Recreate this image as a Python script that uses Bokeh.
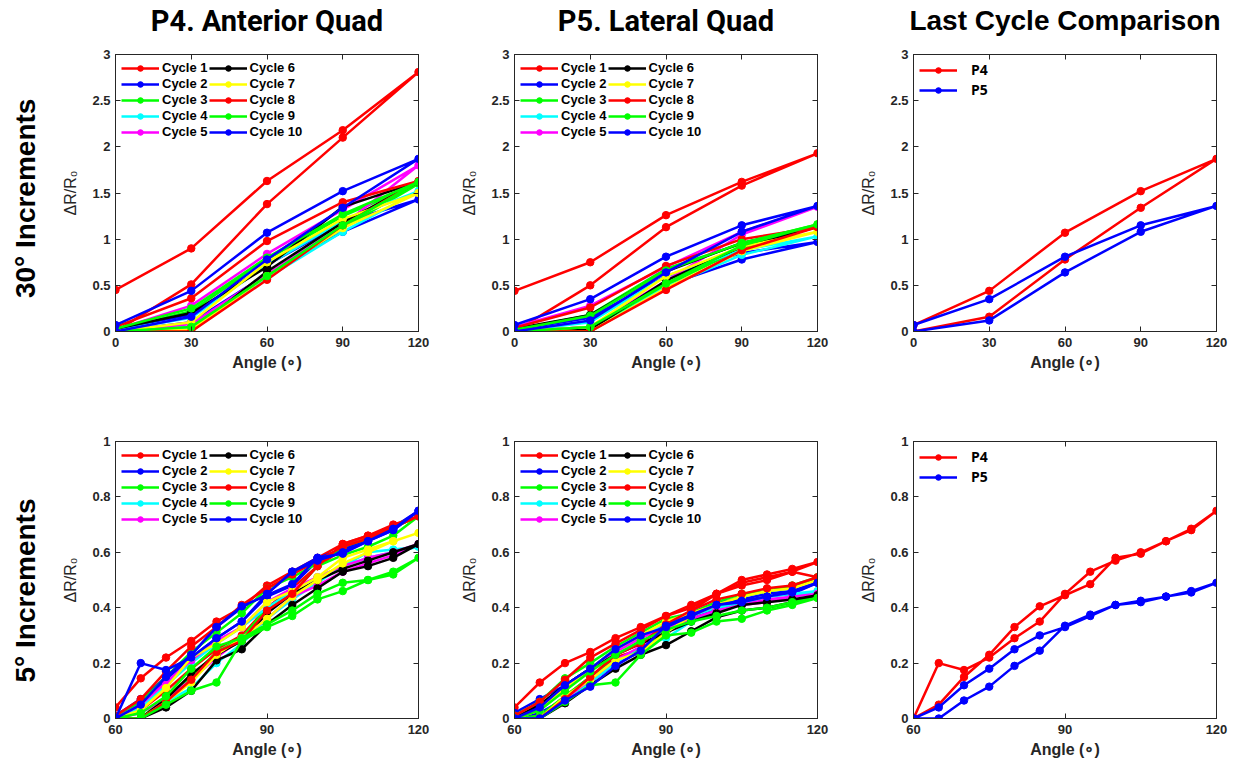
import math
from bokeh.plotting import figure
from bokeh.layouts import row, column
from bokeh.models import (Range1d, FixedTicker, LinearAxis, Legend, LegendItem,
                          CustomJSTickFormatter)
from bokeh.embed import file_html
from bokeh.resources import INLINE
from bokeh.core.properties import value

# ---------------- data ----------------
angles_30 = [0, 30, 60, 90, 120]
angles_5 = [60, 65, 70, 75, 80, 85, 90, 95, 100, 105, 110, 115, 120]

cycle_names = ["Cycle 1", "Cycle 2", "Cycle 3", "Cycle 4", "Cycle 5",
               "Cycle 6", "Cycle 7", "Cycle 8", "Cycle 9", "Cycle 10"]
cycle_colors = ["#FF0000", "#0000FF", "#00FF00", "#00FFFF", "#FF00FF",
                "#000000", "#FFFF00", "#FF0000", "#00FF00", "#0000FF"]
compare_names = ["P4", "P5"]
compare_colors = ["#FF0000", "#0000FF"]

col_titles = ["P4. Anterior Quad", "P5. Lateral Quad", "Last Cycle Comparison"]
row_titles = ["30° Increments", "5° Increments"]
y_label = "ΔR/R₀"
x_label = "Angle (∘)"

ticks_x_30 = [0, 30, 60, 90, 120]
ticks_y_30 = [0, 0.5, 1, 1.5, 2, 2.5, 3]
ticks_x_5 = [60, 90, 120]
ticks_y_5 = [0, 0.2, 0.4, 0.6, 0.8, 1]

# P4, 30 deg increments: loading (0..120) and unloading (90..0)
p4_30_load = [
    [0.00, 0.51, 1.38, 2.10, 2.81],
    [0.00, 0.10, 0.62, 1.08, 1.43],
    [0.00, 0.05, 0.60, 1.12, 1.60],
    [0.00, 0.05, 0.58, 1.08, 1.52],
    [0.00, 0.08, 0.62, 1.15, 1.80],
    [0.00, 0.00, 0.65, 1.18, 1.62],
    [0.00, 0.02, 0.60, 1.12, 1.50],
    [0.00, 0.00, 0.56, 1.15, 1.63],
    [0.00, 0.05, 0.60, 1.15, 1.62],
    [0.00, 0.16, 0.78, 1.34, 1.87],
]
p4_30_unload = [
    [2.18, 1.63, 0.90, 0.45],
    [1.18, 0.72, 0.18, 0.03],
    [1.25, 0.78, 0.22, 0.02],
    [1.20, 0.72, 0.15, 0.01],
    [1.32, 0.84, 0.28, 0.02],
    [1.35, 0.70, 0.20, 0.03],
    [1.22, 0.75, 0.10, 0.00],
    [1.40, 0.98, 0.36, 0.05],
    [1.27, 0.80, 0.25, 0.03],
    [1.52, 1.07, 0.44, 0.07],
]

# P5, 30 deg increments
p5_30_load = [
    [0.00, 0.50, 1.13, 1.58, 1.93],
    [0.00, 0.05, 0.50, 0.78, 0.97],
    [0.00, 0.03, 0.50, 0.90, 1.16],
    [0.00, 0.00, 0.48, 0.83, 1.03],
    [0.00, 0.05, 0.55, 1.05, 1.35],
    [0.00, 0.02, 0.55, 0.92, 1.13],
    [0.00, 0.00, 0.47, 0.87, 1.08],
    [0.00, 0.00, 0.45, 0.88, 1.13],
    [0.00, 0.05, 0.52, 0.93, 1.16],
    [0.00, 0.12, 0.64, 1.08, 1.36],
]
p5_30_unload = [
    [1.62, 1.26, 0.75, 0.44],
    [0.85, 0.60, 0.15, 0.02],
    [0.95, 0.68, 0.18, 0.02],
    [0.88, 0.60, 0.10, 0.00],
    [1.08, 0.70, 0.28, 0.05],
    [0.96, 0.65, 0.18, 0.03],
    [0.92, 0.60, 0.05, 0.00],
    [1.00, 0.71, 0.26, 0.04],
    [0.96, 0.66, 0.17, 0.02],
    [1.15, 0.81, 0.35, 0.07],
]

# P4, 5 deg increments: loading (60..120) and unloading (115..60)
p4_5_load = [
    [0.00, 0.03, 0.10, 0.18, 0.25, 0.30, 0.40, 0.47, 0.55, 0.61, 0.65, 0.69, 0.73],
    [0.00, 0.05, 0.14, 0.22, 0.29, 0.35, 0.44, 0.48, 0.57, 0.60, 0.64, 0.68, 0.75],
    [0.00, 0.00, 0.08, 0.15, 0.24, 0.29, 0.40, 0.45, 0.55, 0.59, 0.62, 0.66, 0.73],
    [0.00, 0.00, 0.06, 0.11, 0.20, 0.27, 0.36, 0.43, 0.49, 0.55, 0.60, 0.61, 0.62],
    [0.00, 0.02, 0.07, 0.14, 0.22, 0.29, 0.36, 0.44, 0.48, 0.53, 0.56, 0.59, 0.63],
    [0.00, 0.00, 0.04, 0.10, 0.21, 0.25, 0.34, 0.41, 0.47, 0.53, 0.55, 0.58, 0.63],
    [0.00, 0.00, 0.06, 0.13, 0.23, 0.29, 0.36, 0.44, 0.50, 0.56, 0.60, 0.64, 0.67],
    [0.00, 0.00, 0.06, 0.14, 0.24, 0.28, 0.39, 0.45, 0.55, 0.63, 0.66, 0.70, 0.73],
    [0.00, 0.00, 0.05, 0.10, 0.13, 0.28, 0.33, 0.37, 0.43, 0.46, 0.50, 0.53, 0.58],
    [0.00, 0.05, 0.15, 0.23, 0.33, 0.405, 0.445, 0.485, 0.58, 0.595, 0.64, 0.685, 0.75],
]
p4_5_unload = [
    [0.69, 0.66, 0.63, 0.58, 0.53, 0.48, 0.40, 0.35, 0.28, 0.22, 0.145, 0.04],
    [0.69, 0.65, 0.61, 0.58, 0.53, 0.45, 0.40, 0.33, 0.23, 0.15, 0.07, 0.01],
    [0.69, 0.65, 0.62, 0.56, 0.51, 0.47, 0.38, 0.31, 0.24, 0.15, 0.06, 0.00],
    [0.60, 0.58, 0.55, 0.51, 0.46, 0.40, 0.33, 0.27, 0.20, 0.12, 0.04, 0.00],
    [0.60, 0.58, 0.55, 0.51, 0.47, 0.42, 0.33, 0.28, 0.21, 0.13, 0.05, 0.00],
    [0.60, 0.57, 0.54, 0.50, 0.45, 0.38, 0.28, 0.23, 0.16, 0.07, 0.00, 0.00],
    [0.64, 0.61, 0.58, 0.51, 0.46, 0.42, 0.33, 0.27, 0.22, 0.11, 0.03, 0.00],
    [0.69, 0.65, 0.62, 0.57, 0.52, 0.47, 0.41, 0.33, 0.26, 0.17, 0.07, 0.01],
    [0.52, 0.50, 0.49, 0.45, 0.39, 0.34, 0.29, 0.26, 0.18, 0.08, 0.02, 0.00],
    [0.68, 0.64, 0.60, 0.57, 0.53, 0.45, 0.35, 0.29, 0.22, 0.175, 0.20, 0.00],
]

# P5, 5 deg increments
p5_5_load = [
    [0.00, 0.01, 0.08, 0.15, 0.22, 0.25, 0.33, 0.39, 0.45, 0.48, 0.50, 0.53, 0.565],
    [0.00, 0.02, 0.07, 0.13, 0.20, 0.24, 0.31, 0.36, 0.40, 0.42, 0.44, 0.45, 0.49],
    [0.00, 0.01, 0.08, 0.15, 0.21, 0.25, 0.32, 0.37, 0.41, 0.44, 0.46, 0.47, 0.51],
    [0.00, 0.00, 0.07, 0.13, 0.20, 0.26, 0.29, 0.35, 0.39, 0.41, 0.43, 0.44, 0.46],
    [0.00, 0.00, 0.07, 0.14, 0.21, 0.26, 0.32, 0.36, 0.39, 0.41, 0.42, 0.44, 0.45],
    [0.00, 0.00, 0.055, 0.12, 0.18, 0.23, 0.265, 0.315, 0.365, 0.39, 0.40, 0.42, 0.445],
    [0.00, 0.00, 0.08, 0.14, 0.21, 0.24, 0.31, 0.37, 0.41, 0.44, 0.46, 0.47, 0.50],
    [0.00, 0.00, 0.07, 0.15, 0.23, 0.27, 0.34, 0.39, 0.43, 0.45, 0.47, 0.48, 0.51],
    [0.00, 0.00, 0.06, 0.12, 0.13, 0.23, 0.30, 0.31, 0.35, 0.36, 0.39, 0.41, 0.435],
    [0.00, 0.00, 0.065, 0.115, 0.19, 0.245, 0.335, 0.375, 0.41, 0.425, 0.44, 0.46, 0.49],
]
p5_5_unload = [
    [0.54, 0.52, 0.50, 0.45, 0.41, 0.37, 0.33, 0.29, 0.24, 0.20, 0.13, 0.04],
    [0.46, 0.45, 0.43, 0.42, 0.38, 0.34, 0.30, 0.25, 0.18, 0.12, 0.07, 0.02],
    [0.48, 0.46, 0.45, 0.42, 0.38, 0.36, 0.31, 0.26, 0.20, 0.145, 0.06, 0.01],
    [0.45, 0.44, 0.42, 0.40, 0.37, 0.34, 0.30, 0.25, 0.18, 0.12, 0.04, 0.00],
    [0.44, 0.43, 0.41, 0.39, 0.36, 0.33, 0.29, 0.24, 0.17, 0.11, 0.03, 0.00],
    [0.43, 0.42, 0.41, 0.38, 0.35, 0.31, 0.27, 0.23, 0.18, 0.12, 0.05, 0.00],
    [0.47, 0.46, 0.44, 0.41, 0.38, 0.35, 0.30, 0.25, 0.18, 0.11, 0.03, 0.00],
    [0.53, 0.51, 0.49, 0.45, 0.40, 0.37, 0.32, 0.27, 0.22, 0.14, 0.06, 0.01],
    [0.42, 0.40, 0.39, 0.37, 0.35, 0.32, 0.28, 0.23, 0.17, 0.10, 0.03, 0.00],
    [0.455, 0.44, 0.42, 0.41, 0.37, 0.33, 0.30, 0.25, 0.18, 0.12, 0.04, 0.00],
]

# ---------------- styling / layout constants ----------------
AX = "#262626"
TICK_FONT = "Liberation Sans"
FRAME_W = 303
FRAME_H = 277
LEFT_B = 70
LABEL_W = 45
HEADER_H = 44
PANEL_WIDTHS = [LEFT_B + FRAME_W + 26, LEFT_B + FRAME_W + 26, LEFT_B + FRAME_W + 22]


def loop_x(angles):
    return list(angles) + list(reversed(angles[:-1]))


def style_axis(ax):
    ax.major_tick_in = 5
    ax.major_tick_out = 0
    ax.minor_tick_line_color = None
    ax.axis_line_color = AX
    ax.axis_line_width = 1
    ax.major_tick_line_color = AX
    ax.major_label_text_font = TICK_FONT
    ax.major_label_text_font_style = "bold"
    ax.major_label_text_font_size = "13px"
    ax.major_label_text_color = AX
    ax.axis_label_text_font = TICK_FONT
    ax.axis_label_text_font_style = "bold"
    ax.axis_label_text_font_size = "16px"
    ax.axis_label_text_color = AX


def add_box_axes(p, xt, yt):
    fmt = CustomJSTickFormatter(code="return String(tick)")
    blank = CustomJSTickFormatter(code="return ''")
    bottom = LinearAxis(ticker=FixedTicker(ticks=xt), formatter=fmt,
                        axis_label=x_label, major_label_standoff=6,
                        axis_label_standoff=4)
    left = LinearAxis(ticker=FixedTicker(ticks=yt), formatter=fmt,
                      axis_label=y_label, major_label_standoff=5,
                      axis_label_standoff=10)
    right = LinearAxis(ticker=FixedTicker(ticks=yt), formatter=blank,
                       major_label_standoff=0)
    top = LinearAxis(ticker=FixedTicker(ticks=xt), formatter=blank,
                     major_label_standoff=0)
    for ax in (bottom, left, right, top):
        style_axis(ax)
    left.axis_label_text_font_style = "normal"
    p.add_layout(bottom, "below")
    p.add_layout(left, "left")
    p.add_layout(right, "right")
    p.add_layout(top, "above")


def make_panel(angles, loads, unloads, names, colors, yr, xt, yt,
               top_border, bottom_border, right_border,
               legend_font="Liberation Sans", legend_size="13px", legend_standoff=3):
    p = figure(frame_width=FRAME_W, frame_height=FRAME_H, title=None,
               x_range=Range1d(angles[0], angles[-1]), y_range=Range1d(*yr),
               output_backend="svg", toolbar_location=None,
               x_axis_location=None, y_axis_location=None,
               min_border_left=LEFT_B, min_border_right=right_border,
               min_border_top=top_border, min_border_bottom=bottom_border,
               background_fill_color="white", border_fill_color="white")
    p.grid.visible = False
    p.outline_line_color = AX
    add_box_axes(p, xt, yt)
    xs = loop_x(angles)
    items = []
    for ld, ul, nm, c in zip(loads, unloads, names, colors):
        ys = list(ld) + list(ul)
        lr = p.line(xs, ys, line_color=c, line_width=2.5)
        sr = p.scatter(xs, ys, size=7.5, color=c)
        items.append(LegendItem(label=nm, renderers=[lr, sr]))
    nrows = 5 if len(items) > 2 else 2
    leg = Legend(items=items, location="top_left", nrows=nrows,
                 orientation="vertical",
                 border_line_color=None, background_fill_color="white",
                 background_fill_alpha=1.0, glyph_width=38, glyph_height=14,
                 label_height=14, spacing=1, label_standoff=legend_standoff,
                 padding=8, margin=6, label_text_font=legend_font,
                 label_text_font_style="bold", label_text_font_size=legend_size,
                 label_text_color="black")
    p.add_layout(leg)
    return p


def blank_canvas(w, h):
    f = figure(width=w, height=h, title=None,
               x_range=Range1d(0, w), y_range=Range1d(h, 0),
               output_backend="svg", toolbar_location=None, min_border=0,
               x_axis_location=None, y_axis_location=None)
    f.grid.visible = False
    f.outline_line_color = None
    return f


def row_label(text, h, yc):
    f = blank_canvas(LABEL_W, h)
    f.text(x=[25], y=[yc], text=[text], angle=math.pi / 2, text_align="center",
           text_baseline="middle", text_font=value("Liberation Sans"),
           text_font_style="bold", text_font_size="28px", text_color="black")
    return f


def header():
    total_w = LABEL_W + sum(PANEL_WIDTHS)
    f = blank_canvas(total_w, HEADER_H)
    centers = []
    x0 = LABEL_W
    for w in PANEL_WIDTHS:
        centers.append(x0 + LEFT_B + FRAME_W / 2)
        x0 += w
    f.text(x=centers[:2], y=[20, 20], text=col_titles[:2], text_align="center",
           text_baseline="middle", text_font=value("Roboto"),
           text_font_style="bold", text_font_size="29px", text_color="black")
    f.text(x=[centers[2]], y=[20], text=[col_titles[2]], text_align="center",
           text_baseline="middle", text_font=value("Liberation Sans"),
           text_font_style="bold", text_font_size="28px", text_color="black")
    return f


TOP_T, TOP_B = 10, 50
BOT_T, BOT_B = 60, 46
TOP_LABEL_Y = 175
BOT_LABEL_Y = 206

top1 = make_panel(angles_30, p4_30_load, p4_30_unload, cycle_names, cycle_colors,
                  (0, 3), ticks_x_30, ticks_y_30, TOP_T, TOP_B, 26)
top2 = make_panel(angles_30, p5_30_load, p5_30_unload, cycle_names, cycle_colors,
                  (0, 3), ticks_x_30, ticks_y_30, TOP_T, TOP_B, 26)
top3 = make_panel(angles_30, [p4_30_load[-1], p5_30_load[-1]],
                  [p4_30_unload[-1], p5_30_unload[-1]], compare_names, compare_colors,
                  (0, 3), ticks_x_30, ticks_y_30, TOP_T, TOP_B, 22,
                  legend_font="Open Sans", legend_size="14px", legend_standoff=14)

bot1 = make_panel(angles_5, p4_5_load, p4_5_unload, cycle_names, cycle_colors,
                  (0, 1), ticks_x_5, ticks_y_5, BOT_T, BOT_B, 26)
bot2 = make_panel(angles_5, p5_5_load, p5_5_unload, cycle_names, cycle_colors,
                  (0, 1), ticks_x_5, ticks_y_5, BOT_T, BOT_B, 26)
bot3 = make_panel(angles_5, [p4_5_load[-1], p5_5_load[-1]],
                  [p4_5_unload[-1], p5_5_unload[-1]], compare_names, compare_colors,
                  (0, 1), ticks_x_5, ticks_y_5, BOT_T, BOT_B, 22,
                  legend_font="Open Sans", legend_size="14px", legend_standoff=14)

top_h = TOP_T + FRAME_H + TOP_B
bot_h = BOT_T + FRAME_H + BOT_B
lab1 = row_label(row_titles[0], top_h, TOP_LABEL_Y)
lab2 = row_label(row_titles[1], bot_h, BOT_LABEL_Y)

layout = column(header(),
                row(lab1, top1, top2, top3),
                row(lab2, bot1, bot2, bot3))

open("out.html", "w").write(file_html(layout, INLINE))
